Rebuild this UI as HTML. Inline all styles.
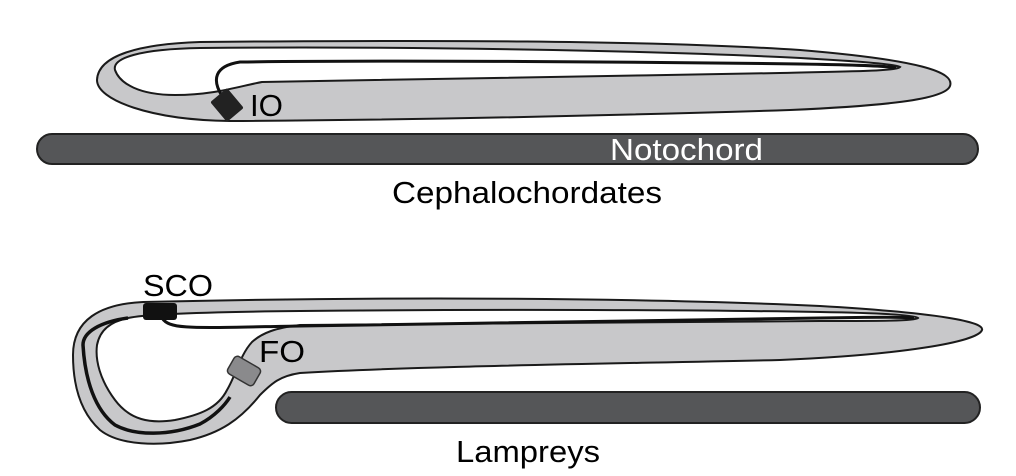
<!DOCTYPE html>
<html><head><style>body{margin:0;background:#fff}svg{display:block}text{font-family:"Liberation Sans",sans-serif;font-size:31px}</style></head><body>
<svg width="1016" height="476" viewBox="0 0 1016 476">
<!-- Top: Cephalochordates -->
<path d="M97,80 C98,55 140,44 200,42 C420,40 650,40 800,50 C920,60 955,72 950,86 C945,100 880,106 790,110 C600,116 400,120 230,121 C150,120 97,100 97,80 Z" fill="#c8c8ca" stroke="#1a1a1a" stroke-width="2"/>
<path d="M115,70 C112,58 140,49 200,48 C420,46 650,51 780,57 C860,61 895,64 900,67 C896,71 860,71 780,73 C600,76 400,80 262,82 C240,86 215,95 175,95 C140,95 120,84 115,70 Z" fill="#fff" stroke="#1a1a1a" stroke-width="2"/>
<path d="M222,96 C212,80 214,66 240,62 C400,60 650,62 800,64 C860,65 890,66 896,68" fill="none" stroke="#111" stroke-width="3"/>
<rect x="216" y="92" width="22" height="26" rx="2" fill="#222" transform="rotate(-40 227 105)"/>
<text x="250" y="116" textLength="33" lengthAdjust="spacingAndGlyphs">IO</text>
<rect x="37" y="134" width="941" height="30" rx="15" fill="#555658" stroke="#222" stroke-width="2"/>
<text x="610" y="160" fill="#fff" textLength="153" lengthAdjust="spacingAndGlyphs">Notochord</text>
<text x="392" y="203" textLength="270" lengthAdjust="spacingAndGlyphs">Cephalochordates</text>
<!-- Bottom: Lampreys -->
<path d="M143,302 C400,296 650,298 820,306 C940,313 985,322 982,330 C978,342 900,355 780,360 C600,364 420,366 300,373 C280,376 272,383 260,395 C240,420 220,433 190,440 C160,446 120,446 100,430 C78,410 73,380 73,355 C73,320 100,304 143,302 Z" fill="#c8c8ca" stroke="#1a1a1a" stroke-width="2"/>
<path d="M128,318 C145,314 200,312 300,311 C500,309 700,310 820,312 C880,313 915,315 918,318 C915,321 880,321 820,321 C600,322 400,323 300,325 C275,328 262,333 252,342 C240,355 236,375 227,390 C218,408 200,415 175,420 C150,424 130,420 115,400 C100,380 95,360 97,345 C100,330 110,322 128,318 Z" fill="#fff" stroke="#1a1a1a" stroke-width="2"/>
<path d="M162,318 C170,330 190,328 300,326 C500,323 700,320 820,318 C870,317 905,317 914,318" fill="none" stroke="#111" stroke-width="3"/>
<path d="M128,318 C100,322 83,332 83,345 C85,380 95,410 115,425 C135,436 170,436 200,424 C215,416 225,405 230,397" fill="none" stroke="#111" stroke-width="3.5"/>
<rect x="143" y="303" width="34" height="17" rx="3" fill="#111"/>
<rect x="229" y="361" width="30" height="20" rx="4" fill="#8a8a8c" stroke="#333" stroke-width="1.5" transform="rotate(30 244 371)"/>
<text x="143" y="296" textLength="70" lengthAdjust="spacingAndGlyphs">SCO</text>
<text x="259" y="362" textLength="46" lengthAdjust="spacingAndGlyphs">FO</text>
<rect x="276" y="392" width="704" height="31" rx="15.5" fill="#555658" stroke="#222" stroke-width="2"/>
<text x="456" y="462" textLength="144" lengthAdjust="spacingAndGlyphs">Lampreys</text>
</svg>
</body></html>
